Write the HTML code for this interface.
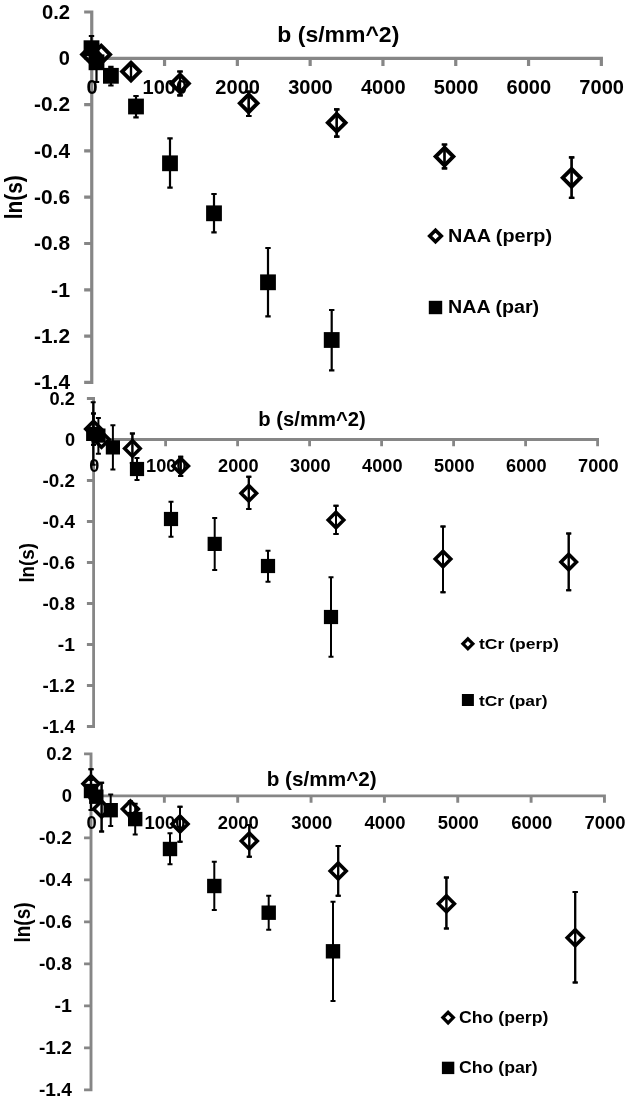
<!DOCTYPE html>
<html lang="en"><head><meta charset="utf-8"><title>ln(s) vs b plots</title>
<style>html,body{margin:0;padding:0;background:#fff}svg{display:block}text{font-family:"Liberation Sans", "DejaVu Sans", sans-serif;font-weight:bold;fill:#000}</style></head><body>
<svg width="630" height="1101" viewBox="0 0 630 1101">
<rect width="630" height="1101" fill="#fff"/>
<g>
<path d="M91.75 10.4V384M93.35 12H84.15M93.35 58.3H84.15M93.35 104.6H84.15M93.35 150.9H84.15M93.35 197.2H84.15M93.35 243.5H84.15M93.35 289.8H84.15M93.35 336.1H84.15M93.35 382.4H84.15M90.15 58.3H602.95M91.75 56.7V65.9M164.55 56.7V65.9M237.35 56.7V65.9M310.15 56.7V65.9M382.95 56.7V65.9M455.75 56.7V65.9M528.55 56.7V65.9M601.35 56.7V65.9" fill="none" stroke="#868686" stroke-width="3.2"/>
<path d="M131 64.5V78.7M128.3 64.5h5.4M128.3 78.7h5.4" fill="none" stroke="#000" stroke-width="2.2"/>
<path d="M180 71.5V95.3M177.3 71.5h5.4M177.3 95.3h5.4" fill="none" stroke="#000" stroke-width="2.2"/>
<path d="M248.7 91.7V116M246 91.7h5.4M246 116h5.4" fill="none" stroke="#000" stroke-width="2.2"/>
<path d="M336.7 109.3V136.7M334 109.3h5.4M334 136.7h5.4" fill="none" stroke="#000" stroke-width="2.2"/>
<path d="M444.5 144.5V168.3M441.8 144.5h5.4M441.8 168.3h5.4" fill="none" stroke="#000" stroke-width="2.2"/>
<path d="M571.6 157.3V197.8M568.9 157.3h5.4M568.9 197.8h5.4" fill="none" stroke="#000" stroke-width="2.2"/>
<path d="M91 45.65L99.85 54.5L91 63.35L82.15 54.5Z" fill="none" stroke="#000" stroke-width="3.9" stroke-linejoin="miter"/>
<path d="M101.2 45.65L110.05 54.5L101.2 63.35L92.35 54.5Z" fill="none" stroke="#000" stroke-width="3.9" stroke-linejoin="miter"/>
<path d="M131 62.75L139.85 71.6L131 80.45L122.15 71.6Z" fill="none" stroke="#000" stroke-width="3.9" stroke-linejoin="miter"/>
<path d="M131 64.5V78.7M128.3 64.5h5.4M128.3 78.7h5.4" fill="none" stroke="#000" stroke-width="2.2"/>
<path d="M180 74.65L188.85 83.5L180 92.35L171.15 83.5Z" fill="none" stroke="#000" stroke-width="3.9" stroke-linejoin="miter"/>
<path d="M180 71.5V95.3M177.3 71.5h5.4M177.3 95.3h5.4" fill="none" stroke="#000" stroke-width="2.2"/>
<path d="M248.7 94.45L257.55 103.3L248.7 112.15L239.85 103.3Z" fill="none" stroke="#000" stroke-width="3.9" stroke-linejoin="miter"/>
<path d="M248.7 91.7V116M246 91.7h5.4M246 116h5.4" fill="none" stroke="#000" stroke-width="2.2"/>
<path d="M336.7 113.85L345.55 122.7L336.7 131.55L327.85 122.7Z" fill="none" stroke="#000" stroke-width="3.9" stroke-linejoin="miter"/>
<path d="M336.7 109.3V136.7M334 109.3h5.4M334 136.7h5.4" fill="none" stroke="#000" stroke-width="2.2"/>
<path d="M444.5 147.75L453.35 156.6L444.5 165.45L435.65 156.6Z" fill="none" stroke="#000" stroke-width="3.9" stroke-linejoin="miter"/>
<path d="M444.5 144.5V168.3M441.8 144.5h5.4M441.8 168.3h5.4" fill="none" stroke="#000" stroke-width="2.2"/>
<path d="M571.6 168.95L580.45 177.8L571.6 186.65L562.75 177.8Z" fill="none" stroke="#000" stroke-width="3.9" stroke-linejoin="miter"/>
<path d="M571.6 157.3V197.8M568.9 157.3h5.4M568.9 197.8h5.4" fill="none" stroke="#000" stroke-width="2.2"/>
<path d="M91.5 36V60M88.8 36h5.4M88.8 60h5.4" fill="none" stroke="#000" stroke-width="2.2"/>
<path d="M96.5 44V82M93.8 44h5.4M93.8 82h5.4" fill="none" stroke="#000" stroke-width="2.2"/>
<path d="M110.9 66.9V85.5M108.2 66.9h5.4M108.2 85.5h5.4" fill="none" stroke="#000" stroke-width="2.2"/>
<path d="M136 96V117.4M133.3 96h5.4M133.3 117.4h5.4" fill="none" stroke="#000" stroke-width="2.2"/>
<path d="M170 138.3V187.7M167.3 138.3h5.4M167.3 187.7h5.4" fill="none" stroke="#000" stroke-width="2.2"/>
<path d="M214 194V232.3M211.3 194h5.4M211.3 232.3h5.4" fill="none" stroke="#000" stroke-width="2.2"/>
<path d="M268 248V316.3M265.3 248h5.4M265.3 316.3h5.4" fill="none" stroke="#000" stroke-width="2.2"/>
<path d="M331.7 310V370.3M329 310h5.4M329 370.3h5.4" fill="none" stroke="#000" stroke-width="2.2"/>
<rect x="83.6" y="40.3" width="15.8" height="15.8" fill="#000"/>
<rect x="88.6" y="54.4" width="15.8" height="15.8" fill="#000"/>
<rect x="103" y="67.9" width="15.8" height="15.8" fill="#000"/>
<rect x="128.1" y="98.6" width="15.8" height="15.8" fill="#000"/>
<rect x="162.1" y="155.4" width="15.8" height="15.8" fill="#000"/>
<rect x="206.1" y="205.4" width="15.8" height="15.8" fill="#000"/>
<rect x="260.1" y="274.4" width="15.8" height="15.8" fill="#000"/>
<rect x="323.8" y="332.1" width="15.8" height="15.8" fill="#000"/>
<text x="41.9" y="18.7" font-size="19.5" textLength="28.1" lengthAdjust="spacingAndGlyphs">0.2</text>
<text x="58.85" y="65" font-size="19.5" textLength="11.15" lengthAdjust="spacingAndGlyphs">0</text>
<text x="34.1" y="111.3" font-size="19.5" textLength="35.9" lengthAdjust="spacingAndGlyphs">-0.2</text>
<text x="34.1" y="157.6" font-size="19.5" textLength="35.9" lengthAdjust="spacingAndGlyphs">-0.4</text>
<text x="34.1" y="203.9" font-size="19.5" textLength="35.9" lengthAdjust="spacingAndGlyphs">-0.6</text>
<text x="34.1" y="250.2" font-size="19.5" textLength="35.9" lengthAdjust="spacingAndGlyphs">-0.8</text>
<text x="51.05" y="296.5" font-size="19.5" textLength="18.95" lengthAdjust="spacingAndGlyphs">-1</text>
<text x="34.1" y="342.8" font-size="19.5" textLength="35.9" lengthAdjust="spacingAndGlyphs">-1.2</text>
<text x="34.1" y="389.1" font-size="19.5" textLength="35.9" lengthAdjust="spacingAndGlyphs">-1.4</text>
<text x="86.47" y="94.2" font-size="19.5" textLength="11.15" lengthAdjust="spacingAndGlyphs">0</text>
<text x="142.55" y="94.2" font-size="19.5" textLength="44.6" lengthAdjust="spacingAndGlyphs">1000</text>
<text x="215.35" y="94.2" font-size="19.5" textLength="44.6" lengthAdjust="spacingAndGlyphs">2000</text>
<text x="288.15" y="94.2" font-size="19.5" textLength="44.6" lengthAdjust="spacingAndGlyphs">3000</text>
<text x="360.95" y="94.2" font-size="19.5" textLength="44.6" lengthAdjust="spacingAndGlyphs">4000</text>
<text x="433.75" y="94.2" font-size="19.5" textLength="44.6" lengthAdjust="spacingAndGlyphs">5000</text>
<text x="506.55" y="94.2" font-size="19.5" textLength="44.6" lengthAdjust="spacingAndGlyphs">6000</text>
<text x="579.35" y="94.2" font-size="19.5" textLength="44.6" lengthAdjust="spacingAndGlyphs">7000</text>
<text x="277.3" y="41.5" font-size="21.8" textLength="122" lengthAdjust="spacingAndGlyphs">b (s/mm^2)</text>
<text x="22" y="219.2" font-size="23.4" textLength="44" lengthAdjust="spacingAndGlyphs" transform="rotate(-90 22 219.2)">ln(s)</text>
<path d="M435.5 230.2L441.3 236L435.5 241.8L429.7 236Z" fill="none" stroke="#000" stroke-width="3.6" stroke-linejoin="miter"/>
<rect x="428.8" y="300.8" width="13.4" height="13.4" fill="#000"/>
<text x="448.1" y="241.7" font-size="17.5" textLength="104" lengthAdjust="spacingAndGlyphs">NAA (perp)</text>
<text x="448.1" y="312.8" font-size="17.5" textLength="91" lengthAdjust="spacingAndGlyphs">NAA (par)</text>
</g>
<g>
<path d="M93.6 397.1V727.9M95 398.5H86.9M95 439.5H86.9M95 480.5H86.9M95 521.5H86.9M95 562.5H86.9M95 603.5H86.9M95 644.5H86.9M95 685.5H86.9M95 726.5H86.9M92.2 439.5H599M93.6 438.1V446.2M165.6 438.1V446.2M237.6 438.1V446.2M309.6 438.1V446.2M381.6 438.1V446.2M453.6 438.1V446.2M525.6 438.1V446.2M597.6 438.1V446.2" fill="none" stroke="#868686" stroke-width="2.8"/>
<path d="M93.5 413.4V444.8M91 413.4h5M91 444.8h5" fill="none" stroke="#000" stroke-width="2"/>
<path d="M132.4 433.6V463M129.9 433.6h5M129.9 463h5" fill="none" stroke="#000" stroke-width="2"/>
<path d="M180.7 456.7V476M178.2 456.7h5M178.2 476h5" fill="none" stroke="#000" stroke-width="2"/>
<path d="M248.8 476.7V509M246.3 476.7h5M246.3 509h5" fill="none" stroke="#000" stroke-width="2"/>
<path d="M336 505.7V534M333.5 505.7h5M333.5 534h5" fill="none" stroke="#000" stroke-width="2"/>
<path d="M443 526.5V592.2M440.5 526.5h5M440.5 592.2h5" fill="none" stroke="#000" stroke-width="2"/>
<path d="M568.7 533.5V590.2M566.2 533.5h5M566.2 590.2h5" fill="none" stroke="#000" stroke-width="2"/>
<path d="M93.5 421.3L101.3 429.1L93.5 436.9L85.7 429.1Z" fill="none" stroke="#000" stroke-width="3.5" stroke-linejoin="miter"/>
<path d="M93.5 413.4V444.8M91 413.4h5M91 444.8h5" fill="none" stroke="#000" stroke-width="2"/>
<path d="M101.5 431.7L109.3 439.5L101.5 447.3L93.7 439.5Z" fill="none" stroke="#000" stroke-width="3.5" stroke-linejoin="miter"/>
<path d="M132.4 440.6L140.2 448.4L132.4 456.2L124.6 448.4Z" fill="none" stroke="#000" stroke-width="3.5" stroke-linejoin="miter"/>
<path d="M132.4 433.6V463M129.9 433.6h5M129.9 463h5" fill="none" stroke="#000" stroke-width="2"/>
<path d="M180.7 458.2L188.5 466L180.7 473.8L172.9 466Z" fill="none" stroke="#000" stroke-width="3.5" stroke-linejoin="miter"/>
<path d="M180.7 456.7V476M178.2 456.7h5M178.2 476h5" fill="none" stroke="#000" stroke-width="2"/>
<path d="M248.8 485.5L256.6 493.3L248.8 501.1L241 493.3Z" fill="none" stroke="#000" stroke-width="3.5" stroke-linejoin="miter"/>
<path d="M248.8 476.7V509M246.3 476.7h5M246.3 509h5" fill="none" stroke="#000" stroke-width="2"/>
<path d="M336 512.2L343.8 520L336 527.8L328.2 520Z" fill="none" stroke="#000" stroke-width="3.5" stroke-linejoin="miter"/>
<path d="M336 505.7V534M333.5 505.7h5M333.5 534h5" fill="none" stroke="#000" stroke-width="2"/>
<path d="M443 551.3L450.8 559.1L443 566.9L435.2 559.1Z" fill="none" stroke="#000" stroke-width="3.5" stroke-linejoin="miter"/>
<path d="M443 526.5V592.2M440.5 526.5h5M440.5 592.2h5" fill="none" stroke="#000" stroke-width="2"/>
<path d="M568.7 554.2L576.5 562L568.7 569.8L560.9 562Z" fill="none" stroke="#000" stroke-width="3.5" stroke-linejoin="miter"/>
<path d="M568.7 533.5V590.2M566.2 533.5h5M566.2 590.2h5" fill="none" stroke="#000" stroke-width="2"/>
<path d="M93.2 402.3V464.7M90.7 402.3h5M90.7 464.7h5" fill="none" stroke="#000" stroke-width="2"/>
<path d="M98.4 418V453.7M95.9 418h5M95.9 453.7h5" fill="none" stroke="#000" stroke-width="2"/>
<path d="M112.9 425.2V469.6M110.4 425.2h5M110.4 469.6h5" fill="none" stroke="#000" stroke-width="2"/>
<path d="M137 458V480M134.5 458h5M134.5 480h5" fill="none" stroke="#000" stroke-width="2"/>
<path d="M171 501.7V536.7M168.5 501.7h5M168.5 536.7h5" fill="none" stroke="#000" stroke-width="2"/>
<path d="M214.7 517.9V569.9M212.2 517.9h5M212.2 569.9h5" fill="none" stroke="#000" stroke-width="2"/>
<path d="M268 550.7V581.7M265.5 550.7h5M265.5 581.7h5" fill="none" stroke="#000" stroke-width="2"/>
<path d="M331 577.3V656.7M328.5 577.3h5M328.5 656.7h5" fill="none" stroke="#000" stroke-width="2"/>
<rect x="86.1" y="426.8" width="14.2" height="14.2" fill="#000"/>
<rect x="91.3" y="428.5" width="14.2" height="14.2" fill="#000"/>
<rect x="105.8" y="440.3" width="14.2" height="14.2" fill="#000"/>
<rect x="129.9" y="461.9" width="14.2" height="14.2" fill="#000"/>
<rect x="163.9" y="511.9" width="14.2" height="14.2" fill="#000"/>
<rect x="207.6" y="536.8" width="14.2" height="14.2" fill="#000"/>
<rect x="260.9" y="558.9" width="14.2" height="14.2" fill="#000"/>
<rect x="323.9" y="609.9" width="14.2" height="14.2" fill="#000"/>
<text x="49.55" y="404.75" font-size="17.5" textLength="25.45" lengthAdjust="spacingAndGlyphs">0.2</text>
<text x="64.9" y="445.75" font-size="17.5" textLength="10.1" lengthAdjust="spacingAndGlyphs">0</text>
<text x="42.48" y="486.75" font-size="17.5" textLength="32.52" lengthAdjust="spacingAndGlyphs">-0.2</text>
<text x="42.48" y="527.75" font-size="17.5" textLength="32.52" lengthAdjust="spacingAndGlyphs">-0.4</text>
<text x="42.48" y="568.75" font-size="17.5" textLength="32.52" lengthAdjust="spacingAndGlyphs">-0.6</text>
<text x="42.48" y="609.75" font-size="17.5" textLength="32.52" lengthAdjust="spacingAndGlyphs">-0.8</text>
<text x="57.83" y="650.75" font-size="17.5" textLength="17.17" lengthAdjust="spacingAndGlyphs">-1</text>
<text x="42.48" y="691.75" font-size="17.5" textLength="32.52" lengthAdjust="spacingAndGlyphs">-1.2</text>
<text x="42.48" y="732.75" font-size="17.5" textLength="32.52" lengthAdjust="spacingAndGlyphs">-1.4</text>
<text x="89.25" y="472" font-size="17.5" textLength="10.1" lengthAdjust="spacingAndGlyphs">0</text>
<text x="146.1" y="472" font-size="17.5" textLength="40.4" lengthAdjust="spacingAndGlyphs">1000</text>
<text x="218.1" y="472" font-size="17.5" textLength="40.4" lengthAdjust="spacingAndGlyphs">2000</text>
<text x="290.1" y="472" font-size="17.5" textLength="40.4" lengthAdjust="spacingAndGlyphs">3000</text>
<text x="362.1" y="472" font-size="17.5" textLength="40.4" lengthAdjust="spacingAndGlyphs">4000</text>
<text x="434.1" y="472" font-size="17.5" textLength="40.4" lengthAdjust="spacingAndGlyphs">5000</text>
<text x="506.1" y="472" font-size="17.5" textLength="40.4" lengthAdjust="spacingAndGlyphs">6000</text>
<text x="578.1" y="472" font-size="17.5" textLength="40.4" lengthAdjust="spacingAndGlyphs">7000</text>
<text x="258.3" y="426" font-size="19.5" textLength="107.4" lengthAdjust="spacingAndGlyphs">b (s/mm^2)</text>
<text x="33.6" y="582.6" font-size="21" textLength="39.5" lengthAdjust="spacingAndGlyphs" transform="rotate(-90 33.6 582.6)">ln(s)</text>
<path d="M467.9 638.8L472.9 643.8L467.9 648.8L462.9 643.8Z" fill="none" stroke="#000" stroke-width="3.2" stroke-linejoin="miter"/>
<rect x="461.9" y="694" width="12" height="12" fill="#000"/>
<text x="479" y="649" font-size="15.5" textLength="79.8" lengthAdjust="spacingAndGlyphs">tCr (perp)</text>
<text x="479" y="705.7" font-size="15.5" textLength="68.6" lengthAdjust="spacingAndGlyphs">tCr (par)</text>
</g>
<g>
<path d="M91 752.45V1091.35M92.45 753.9H84.05M92.45 795.9H84.05M92.45 837.9H84.05M92.45 879.9H84.05M92.45 921.9H84.05M92.45 963.9H84.05M92.45 1005.9H84.05M92.45 1047.9H84.05M92.45 1089.9H84.05M89.55 795.9H605.9M91 794.45V802.85M164.35 794.45V802.85M237.7 794.45V802.85M311.05 794.45V802.85M384.4 794.45V802.85M457.75 794.45V802.85M531.1 794.45V802.85M604.45 794.45V802.85" fill="none" stroke="#868686" stroke-width="2.9"/>
<path d="M91 769.2V798.2M88.5 769.2h5M88.5 798.2h5" fill="none" stroke="#000" stroke-width="2"/>
<path d="M101.6 782.8V831.4M99.1 782.8h5M99.1 831.4h5" fill="none" stroke="#000" stroke-width="2"/>
<path d="M130.4 801.5V816.7M127.9 801.5h5M127.9 816.7h5" fill="none" stroke="#000" stroke-width="2"/>
<path d="M180 806.7V841.7M177.5 806.7h5M177.5 841.7h5" fill="none" stroke="#000" stroke-width="2"/>
<path d="M249.3 825V856.7M246.8 825h5M246.8 856.7h5" fill="none" stroke="#000" stroke-width="2"/>
<path d="M338.2 846V895.7M335.7 846h5M335.7 895.7h5" fill="none" stroke="#000" stroke-width="2"/>
<path d="M446.4 877.4V928.5M443.9 877.4h5M443.9 928.5h5" fill="none" stroke="#000" stroke-width="2"/>
<path d="M575.2 892V982.6M572.7 892h5M572.7 982.6h5" fill="none" stroke="#000" stroke-width="2"/>
<path d="M91 775.7L99 783.7L91 791.7L83 783.7Z" fill="none" stroke="#000" stroke-width="3.55" stroke-linejoin="miter"/>
<path d="M91 769.2V798.2M88.5 769.2h5M88.5 798.2h5" fill="none" stroke="#000" stroke-width="2"/>
<path d="M101.6 801L109.6 809L101.6 817L93.6 809Z" fill="none" stroke="#000" stroke-width="3.55" stroke-linejoin="miter"/>
<path d="M101.6 782.8V831.4M99.1 782.8h5M99.1 831.4h5" fill="none" stroke="#000" stroke-width="2"/>
<path d="M130.4 801.1L138.4 809.1L130.4 817.1L122.4 809.1Z" fill="none" stroke="#000" stroke-width="3.55" stroke-linejoin="miter"/>
<path d="M130.4 801.5V816.7M127.9 801.5h5M127.9 816.7h5" fill="none" stroke="#000" stroke-width="2"/>
<path d="M180 816L188 824L180 832L172 824Z" fill="none" stroke="#000" stroke-width="3.55" stroke-linejoin="miter"/>
<path d="M180 806.7V841.7M177.5 806.7h5M177.5 841.7h5" fill="none" stroke="#000" stroke-width="2"/>
<path d="M249.3 833L257.3 841L249.3 849L241.3 841Z" fill="none" stroke="#000" stroke-width="3.55" stroke-linejoin="miter"/>
<path d="M249.3 825V856.7M246.8 825h5M246.8 856.7h5" fill="none" stroke="#000" stroke-width="2"/>
<path d="M338.2 863L346.2 871L338.2 879L330.2 871Z" fill="none" stroke="#000" stroke-width="3.55" stroke-linejoin="miter"/>
<path d="M338.2 846V895.7M335.7 846h5M335.7 895.7h5" fill="none" stroke="#000" stroke-width="2"/>
<path d="M446.4 895.7L454.4 903.7L446.4 911.7L438.4 903.7Z" fill="none" stroke="#000" stroke-width="3.55" stroke-linejoin="miter"/>
<path d="M446.4 877.4V928.5M443.9 877.4h5M443.9 928.5h5" fill="none" stroke="#000" stroke-width="2"/>
<path d="M575.2 929.7L583.2 937.7L575.2 945.7L567.2 937.7Z" fill="none" stroke="#000" stroke-width="3.55" stroke-linejoin="miter"/>
<path d="M575.2 892V982.6M572.7 892h5M572.7 982.6h5" fill="none" stroke="#000" stroke-width="2"/>
<path d="M91 780V810M88.5 780h5M88.5 810h5" fill="none" stroke="#000" stroke-width="2"/>
<path d="M110.7 794.4V826.1M108.2 794.4h5M108.2 826.1h5" fill="none" stroke="#000" stroke-width="2"/>
<path d="M135.2 803.7V834.4M132.7 803.7h5M132.7 834.4h5" fill="none" stroke="#000" stroke-width="2"/>
<path d="M170 833.3V864.3M167.5 833.3h5M167.5 864.3h5" fill="none" stroke="#000" stroke-width="2"/>
<path d="M214.3 861.7V910M211.8 861.7h5M211.8 910h5" fill="none" stroke="#000" stroke-width="2"/>
<path d="M268.7 895.7V929.7M266.2 895.7h5M266.2 929.7h5" fill="none" stroke="#000" stroke-width="2"/>
<path d="M333 901.7V1001M330.5 901.7h5M330.5 1001h5" fill="none" stroke="#000" stroke-width="2"/>
<rect x="83.8" y="783.8" width="14.4" height="14.4" fill="#000"/>
<rect x="89.1" y="789.5" width="14.4" height="14.4" fill="#000"/>
<rect x="103.5" y="803" width="14.4" height="14.4" fill="#000"/>
<rect x="128" y="811.9" width="14.4" height="14.4" fill="#000"/>
<rect x="162.8" y="841.8" width="14.4" height="14.4" fill="#000"/>
<rect x="207.1" y="878.8" width="14.4" height="14.4" fill="#000"/>
<rect x="261.5" y="905.5" width="14.4" height="14.4" fill="#000"/>
<rect x="325.8" y="944.1" width="14.4" height="14.4" fill="#000"/>
<text x="46.17" y="760.3" font-size="17.8" textLength="25.83" lengthAdjust="spacingAndGlyphs">0.2</text>
<text x="61.75" y="802.3" font-size="17.8" textLength="10.25" lengthAdjust="spacingAndGlyphs">0</text>
<text x="38.99" y="844.3" font-size="17.8" textLength="33.01" lengthAdjust="spacingAndGlyphs">-0.2</text>
<text x="38.99" y="886.3" font-size="17.8" textLength="33.01" lengthAdjust="spacingAndGlyphs">-0.4</text>
<text x="38.99" y="928.3" font-size="17.8" textLength="33.01" lengthAdjust="spacingAndGlyphs">-0.6</text>
<text x="38.99" y="970.3" font-size="17.8" textLength="33.01" lengthAdjust="spacingAndGlyphs">-0.8</text>
<text x="54.58" y="1012.3" font-size="17.8" textLength="17.43" lengthAdjust="spacingAndGlyphs">-1</text>
<text x="38.99" y="1054.3" font-size="17.8" textLength="33.01" lengthAdjust="spacingAndGlyphs">-1.2</text>
<text x="38.99" y="1096.3" font-size="17.8" textLength="33.01" lengthAdjust="spacingAndGlyphs">-1.4</text>
<text x="86.47" y="829" font-size="17.8" textLength="10.25" lengthAdjust="spacingAndGlyphs">0</text>
<text x="144.45" y="829" font-size="17.8" textLength="41" lengthAdjust="spacingAndGlyphs">1000</text>
<text x="217.8" y="829" font-size="17.8" textLength="41" lengthAdjust="spacingAndGlyphs">2000</text>
<text x="291.15" y="829" font-size="17.8" textLength="41" lengthAdjust="spacingAndGlyphs">3000</text>
<text x="364.5" y="829" font-size="17.8" textLength="41" lengthAdjust="spacingAndGlyphs">4000</text>
<text x="437.85" y="829" font-size="17.8" textLength="41" lengthAdjust="spacingAndGlyphs">5000</text>
<text x="511.2" y="829" font-size="17.8" textLength="41" lengthAdjust="spacingAndGlyphs">6000</text>
<text x="584.55" y="829" font-size="17.8" textLength="41" lengthAdjust="spacingAndGlyphs">7000</text>
<text x="266.7" y="786.3" font-size="19.9" textLength="110" lengthAdjust="spacingAndGlyphs">b (s/mm^2)</text>
<text x="29.7" y="942.6" font-size="21.4" textLength="40.2" lengthAdjust="spacingAndGlyphs" transform="rotate(-90 29.7 942.6)">ln(s)</text>
<path d="M448.1 1012.4L453.3 1017.6L448.1 1022.8L442.9 1017.6Z" fill="none" stroke="#000" stroke-width="3.3" stroke-linejoin="miter"/>
<rect x="441.9" y="1061.7" width="12.4" height="12.4" fill="#000"/>
<text x="459" y="1022.6" font-size="16" textLength="89.3" lengthAdjust="spacingAndGlyphs">Cho (perp)</text>
<text x="459" y="1073.3" font-size="16" textLength="78.6" lengthAdjust="spacingAndGlyphs">Cho (par)</text>
</g>
</svg></body></html>
